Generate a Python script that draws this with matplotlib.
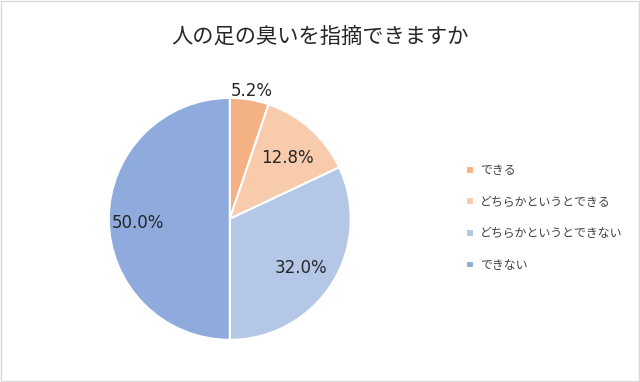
import matplotlib
matplotlib.use('Agg')
import matplotlib.pyplot as plt
import numpy as np
from matplotlib.patches import Rectangle

plt.rcParams['font.family'] = ['Noto Sans CJK JP', 'DejaVu Sans']

# データ
labels = ['できる', 'どちらかというとできる', 'どちらかというとできない', 'できない']
values = [5.2, 12.8, 32.0, 50.0]
colors = ['#F4B183', '#F8CBAD', '#B4C7E7', '#8FAADC']
label_dist = [1.1, 0.72, 0.70, 0.76]

fig = plt.figure(figsize=(6.4, 3.82), dpi=100)
fig.patches.append(Rectangle((0.002, 0.003), 0.996, 0.994, transform=fig.transFigure,
                             fill=False, edgecolor='#D9D9D9', linewidth=1))

ax = fig.add_axes([0.359 - 0.189, 0.427 - 0.317, 0.378, 0.634])
wedges, _ = ax.pie(values, colors=colors, startangle=90, counterclock=False,
                   wedgeprops={'edgecolor': 'white', 'linewidth': 1.5})
ax.set_xlim(-1, 1)
ax.set_ylim(-1, 1)
ax.set_aspect('equal')

# ラベル
cum = 0
for v, d in zip(values, label_dist):
    ang = np.deg2rad(90 - (cum + v / 2) * 3.6)
    cum += v
    ax.text(d * np.cos(ang), d * np.sin(ang) - 0.03, '%.1f%%' % v,
            ha='center', va='center', fontsize=12, color='#262626',
            family='DejaVu Sans', clip_on=False)

fig.text(0.5, 0.905, '人の足の臭いを指摘できますか', ha='center', va='center',
         fontsize=15.3, color='#262626')

leg = fig.legend(wedges, labels, loc='center left', bbox_to_anchor=(0.712, 0.43),
                 frameon=False, fontsize=8.6, handlelength=0.6, handleheight=0.6,
                 handletextpad=0.5, labelspacing=1.55)
for t in leg.get_texts():
    t.set_color('#404040')

plt.savefig('out.png', dpi=100)
